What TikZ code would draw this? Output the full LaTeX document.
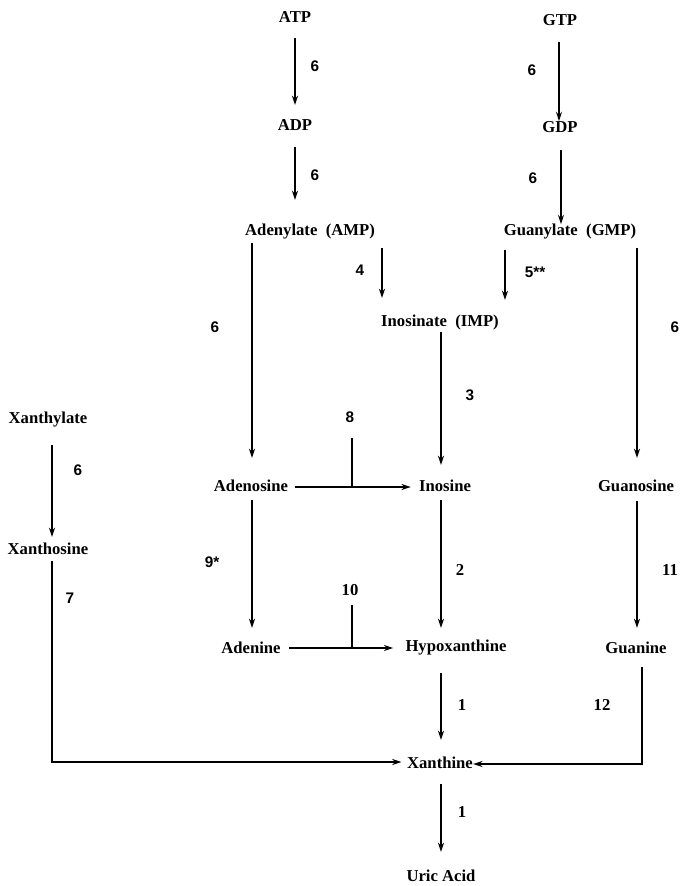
\documentclass[tikz,border=0pt]{standalone}
\usepackage{fontspec}
\setmainfont{Liberation Serif}
\newfontfamily\numsans{Liberation Sans}
\usetikzlibrary{arrows.meta}
\begin{document}
\begin{tikzpicture}[x=0.75pt,y=-0.75pt,
  cpd/.style={font=\fontsize{12.5}{14}\selectfont\bfseries, inner sep=0pt, anchor=center},
  lab/.style={font=\numsans\fontsize{11.5}{13}\selectfont\bfseries, inner sep=0pt},
  labs/.style={font=\fontsize{12.5}{14}\selectfont\bfseries, inner sep=0pt},
  arr/.style={line width=1.1pt, -{Stealth[length=7pt,width=4.5pt]}},
  ln/.style={line width=1.1pt}]
\useasboundingbox (0,0) rectangle (680,886);
\fill[white] (0,0) rectangle (680,886);

% compounds
\node[cpd] (ATP) at (295,17) {ATP};
\node[cpd] (ADP) at (295,125) {ADP};
\node[cpd] (AMP) at (310,232) {Adenylate\ \ (AMP)};
\node[cpd] (GTP) at (560,20) {GTP};
\node[cpd] (GDP) at (560,127) {GDP};
\node[cpd] (GMP) at (570,232) {Guanylate\ \ (GMP)};
\node[cpd] (IMP) at (440,322) {Inosinate\ \ (IMP)};
\node[cpd] (XMP) at (48,420) {Xanthylate};
\node[cpd] (Ado) at (251,486) {Adenosine};
\node[cpd] (Ino) at (445,486) {Inosine};
\node[cpd] (Guo) at (636,486) {Guanosine};
\node[cpd] (Xao) at (48,549) {Xanthosine};
\node[cpd] (Ade) at (251,648) {Adenine};
\node[cpd] (Hyp) at (456,648) {Hypoxanthine};
\node[cpd] (Gua) at (636,648) {Guanine};
\node[cpd] (Xan) at (440,763) {Xanthine};
\node[cpd] (Uric) at (441,876) {Uric Acid};

% ATP -> ADP -> AMP
\draw[arr] (ATP |- 0,38) -- (ATP |- 0,105);
\draw[arr] (ADP |- 0,147) -- (ADP |- 0,200);
\node[lab] (e1) at (315,66) {6};
\node[lab] (e2) at (315,175) {6};

% GTP -> GDP -> GMP
\draw[arr] (559,42) -- (GDP.north -| 559,0);
\draw[arr] (561,150) -- (GMP.north -| 561,0);
\node[lab] (e3) at (532,70) {6};
\node[lab] (e4) at (533,178) {6};

% AMP, GMP -> IMP
\draw[arr] (AMP.south -| 382,0) ++(0,8) -- (382,298);
\draw[arr] (GMP.south -| 505,0) ++(0,10) -- (505,300);
\node[lab] (e5) at (360,270) {4};
\node[lab] (e6) at (535,272) {5**};

% nucleotides -> nucleosides
\draw[arr] (AMP.south -| 252,0) ++(0,3) -- (252,458);
\draw[arr] (GMP.south -| 637,0) ++(0,8) -- (637,458);
\draw[arr] (IMP.south -| 441,0) ++(0,2) -- (441,465);
\draw[arr] (XMP.south -| 52,0) ++(0,17) -- (52,537);
\node[lab] (e7) at (215,327) {6};
\node[lab] (e8) at (675,327) {6};
\node[lab] (e9) at (470,395) {3};
\node[lab] (e10) at (78,470) {6};

% adenosine -> inosine, with enzyme 8
\coordinate (b8) at (352,487);
\draw[arr, shorten >=6pt] (Ado.east |- b8) ++(7,0) -- (Ino.west |- b8);
\draw[ln] (352,438) -- (b8);
\node[lab] (e11) at (350,417) {8};

% nucleosides -> bases
\draw[arr] (Ado.south -| 252,0) ++(0,8) -- (252,628);
\draw[arr] (Ino.south -| 441,0) ++(0,8) -- (441,628);
\draw[arr] (Guo.south -| 637,0) ++(0,9) -- (637,628);
\node[lab] (e12) at (212,562) {9*};
\node[labs] (e13) at (460,570) {2};
\node[labs] (e14) at (670,570) {11};

% adenine -> hypoxanthine, with enzyme 10
\coordinate (b10) at (352,648);
\draw[arr, shorten >=9pt] (Ade.east |- b10) ++(8,0) -- (Hyp.west |- b10);
\draw[ln] (352,605) -- (b10);
\node[labs] (e15) at (350,590) {10};

% routes to xanthine
\coordinate (xcorner) at (52,762);
\coordinate (gcorner) at (642,764);
\draw[arr, shorten >=4pt] (Xao.south -| xcorner) ++(0,6) -- (xcorner) -- (Xan.west |- xcorner);
\draw[arr] (Hyp.south -| 441,0) ++(0,17) -- (441,740);
\draw[arr] (Gua.south -| gcorner) ++(0,13) -- (gcorner) -- (Xan.east |- gcorner);
\node[lab] (e16) at (70,598) {7};
\node[labs] (e17) at (462,705) {1};
\node[labs] (e18) at (602,705) {12};

% xanthine -> uric acid
\draw[arr] (Xan.south -| 441,0) ++(0,15) -- (441,852);
\node[labs] (e19) at (462,812) {1};
\end{tikzpicture}
\end{document}
